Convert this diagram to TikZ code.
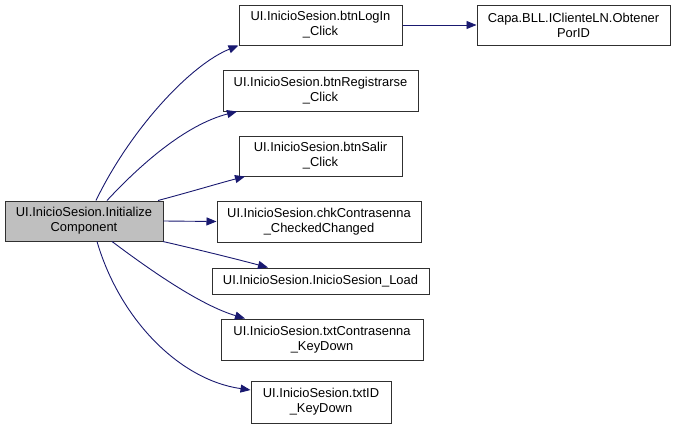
\documentclass[tikz,border=0pt]{standalone}
\usepackage{fontspec}
\setmainfont{Liberation Sans}
\usetikzlibrary{arrows.meta}
\definecolor{edgeblue}{HTML}{191970}
\definecolor{rootgray}{HTML}{BFBFBF}
\definecolor{boxline}{HTML}{303030}
\begin{document}
\begin{tikzpicture}[x=1pt,y=-1pt,
  box/.style={draw=boxline, line width=1pt, fill=white, align=center, inner sep=0pt,
    font=\fontsize{12.9}{15}\selectfont},
  rootbox/.style={box, fill=rootgray},
  call/.style={draw=edgeblue, line width=0.9pt, -{Triangle[length=10pt,width=8pt]}}
]
\useasboundingbox (0,0) rectangle (675,431);
\node[rootbox, minimum width=158pt, minimum height=40pt] (root) at (84,221) {UI.InicioSesion.Initialize\\Component};
\node[box, minimum width=163pt, minimum height=40pt] (login) at (320.5,25) {UI.InicioSesion.btnLogIn\\\_Click};
\node[box, minimum width=193pt, minimum height=40pt] (capa) at (573.5,25) {Capa.BLL.IClienteLN.Obtener\\PorID};
\node[box, minimum width=195pt, minimum height=41pt] (reg) at (320.5,90.5) {UI.InicioSesion.btnRegistrarse\\\_Click};
\node[box, minimum width=163pt, minimum height=40pt] (salir) at (320.5,156) {UI.InicioSesion.btnSalir\\\_Click};
\node[box, minimum width=204pt, minimum height=41pt] (chk) at (319,221.5) {UI.InicioSesion.chkContrasenna\\\_CheckedChanged};
\node[box, minimum width=217pt, minimum height=26pt] (load) at (320.5,281) {UI.InicioSesion.InicioSesion\_Load};
\node[box, minimum width=202pt, minimum height=41pt] (txtc) at (322,339.5) {UI.InicioSesion.txtContrasenna\\\_KeyDown};
\node[box, minimum width=140pt, minimum height=42pt] (txtid) at (321,402) {UI.InicioSesion.txtID\\\_KeyDown};

\draw[call] (root.north -| 96,0) .. controls (130,130) and (190,65) .. (login.south west);
\draw[call] (root.north -| 107,0) .. controls (140,165) and (185,125) .. (reg.south west -| 237,0);
\draw[call] (root.north -| 158,0) .. controls (190,192) and (220,183) .. (salir.south west -| 245,0);
\draw[call] (root.east) -- (chk.west);
\draw[call] (root.south -| 163,0) .. controls (200,250) and (240,260) .. (load.north west -| 268,0);
\draw[call] (root.south -| 112,0) .. controls (150,270) and (200,305) .. (txtc.north west -| 245,0);
\draw[call] (root.south -| 97,0) .. controls (120,320) and (180,380) .. (txtid.west |- 0,390);
\draw[call] (login.east) -- (capa.west);
\end{tikzpicture}
\end{document}
